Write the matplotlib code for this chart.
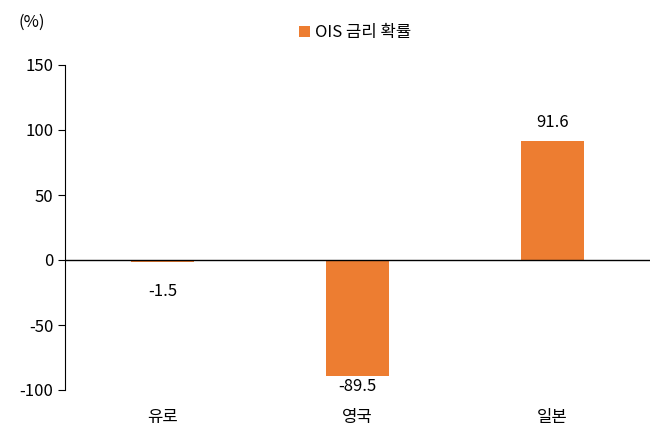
import matplotlib
matplotlib.use("Agg")
import matplotlib.pyplot as plt

plt.rcParams['font.family'] = ['Noto Sans CJK KR', 'DejaVu Sans']

categories = ['유로', '영국', '일본']
values = [-1.5, -89.5, 91.6]
labels = ['-1.5', '-89.5', '91.6']
series_name = 'OIS 금리 확률'
yticks = [-100, -50, 0, 50, 100, 150]

fig = plt.figure(figsize=(6.54, 4.36), dpi=100)
ax = fig.add_axes([65/654, 1-390/436, 585/654, 325/436])
x = list(range(len(categories)))
ax.bar(x, values, width=0.32, color='#ED7D31', label=series_name)
ax.set_ylim(-100, 150)
ax.set_xlim(-0.5, 2.5)
ax.set_yticks(yticks)
ax.set_yticklabels([str(t) for t in yticks], fontsize=12)
ax.set_xticks(x)
ax.set_xticklabels(categories, fontsize=12)
ax.tick_params(axis='x', length=0, pad=14)
ax.tick_params(axis='y', direction='out', length=5, color='black')
for s in ['top', 'right', 'bottom']:
    ax.spines[s].set_visible(False)
ax.axhline(0, color='black', lw=1)
for xi, v, lab in zip(x, values, labels):
    if v >= 0:
        ax.text(xi, v + 8, lab, ha='center', va='bottom', fontsize=12)
    else:
        off = 16 if v > -20 else 1.5
        ax.text(xi, v - off, lab, ha='center', va='top', fontsize=12)
fig.text(18/654, 1-22/436, '(%)', fontsize=12, va='center')
fig.legend(loc='center', bbox_to_anchor=(355/654, 1-33/436), frameon=False,
           fontsize=12, handlelength=0.7, handleheight=0.7, handletextpad=0.3)
fig.savefig('out.png', dpi=100)
